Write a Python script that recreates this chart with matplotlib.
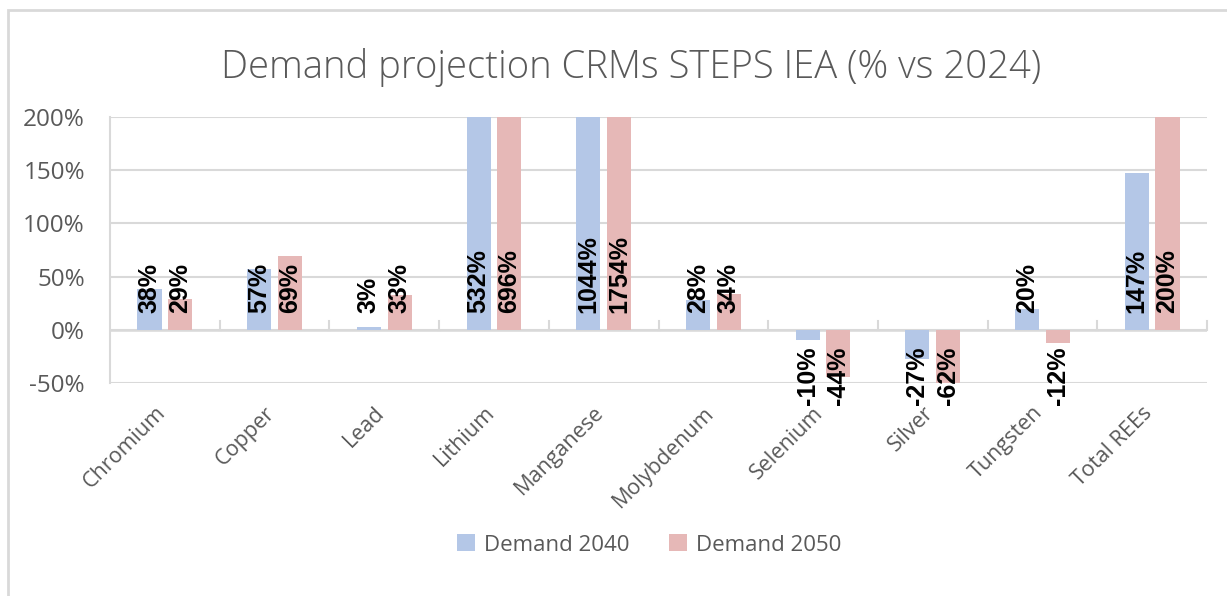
import matplotlib
matplotlib.use("Agg")
import matplotlib.pyplot as plt
import matplotlib.transforms as mtransforms
import numpy as np
from matplotlib.patches import Rectangle

categories = ["Chromium", "Copper", "Lead", "Lithium", "Manganese",
              "Molybdenum", "Selenium", "Silver", "Tungsten", "Total REEs"]
demand_2040 = [38, 57, 3, 532, 1044, 28, -10, -27, 20, 147]
demand_2050 = [29, 69, 33, 696, 1754, 34, -44, -62, -12, 200]
series_names = ["Demand 2040", "Demand 2050"]
yticks = [-50, 0, 50, 100, 150, 200]

plt.rcParams['font.family'] = ['Open Sans', 'DejaVu Sans']
plt.rcParams['axes.unicode_minus'] = False

BLUE = '#B4C7E7'
RED = '#E6B8B7'
GRID = '#D9D9D9'
TEXT = '#595959'

fig = plt.figure(figsize=(12.27, 5.96), dpi=100)
ax = fig.add_axes([110 / 1227, 1 - 383 / 596, 1097 / 1227, 266 / 596])

x = np.arange(len(categories))
w = 0.22
off = 0.14
ax.bar(x - off, demand_2040, w, color=BLUE, label=series_names[0], zorder=2)
ax.bar(x + off, demand_2050, w, color=RED, label=series_names[1], zorder=2)

# data labels anchored at the base, like Excel "inside base"
for xs, vals in ((x - off, demand_2040), (x + off, demand_2050)):
    for xi, v in zip(xs, vals):
        up = v >= 0
        ax.annotate(f"{v}%", (xi, 0), xytext=(0, 17 if up else -17),
                    textcoords='offset pixels', rotation=90, ha='center',
                    va='bottom' if up else 'top', fontsize=18, fontweight='bold',
                    family=['Liberation Sans'], color='black',
                    annotation_clip=False, zorder=4)

ax.set_xlim(-0.5, len(categories) - 0.5)
ax.set_ylim(-50, 200)
ax.set_yticks(yticks)
ax.set_yticklabels([f"{t}%" for t in yticks], fontsize=17.5, color=TEXT)
ax.yaxis.grid(True, color=GRID, lw=1.5, zorder=0)
ax.tick_params(axis='y', length=0, pad=18)

ax.set_xticks(x)
ax.set_xticklabels(categories, rotation=45, ha='right', rotation_mode='anchor',
                   fontsize=15.5, color=TEXT)
ax.tick_params(axis='x', length=0, pad=14)
shift = mtransforms.ScaledTranslation(-10 / 100, 0, fig.dpi_scale_trans)
for lbl in ax.get_xticklabels():
    lbl.set_transform(lbl.get_transform() + shift)

for s in ['top', 'right', 'bottom']:
    ax.spines[s].set_visible(False)
ax.spines['left'].set_color(GRID)
ax.spines['left'].set_linewidth(1.5)

# category axis at zero with boundary tick marks
ax.axhline(0, color=GRID, lw=1.8, zorder=1)
for b in np.arange(0.5, len(categories), 1.0):
    ax.plot([b, b], [0, 8], color=GRID, lw=1.5, zorder=1, clip_on=False)

fig.text(0.514, 1 - 78 / 596, "Demand projection CRMs STEPS IEA (% vs 2024)",
         ha='center', va='baseline', fontsize=27.5, color=TEXT, fontweight='light')

fig.legend(loc='center', bbox_to_anchor=(0.529, 1 - 545 / 596), ncol=2, frameon=False,
           fontsize=16, labelcolor=TEXT, handlelength=0.8, handleheight=0.8,
           handletextpad=0.4, columnspacing=1.8)

fig.patches.append(Rectangle((8 / 1227, -0.1), 1.2, 1 - 10 / 596 + 0.1,
                             transform=fig.transFigure, fill=False,
                             edgecolor=GRID, lw=2))

fig.savefig("out.png", dpi=100)
